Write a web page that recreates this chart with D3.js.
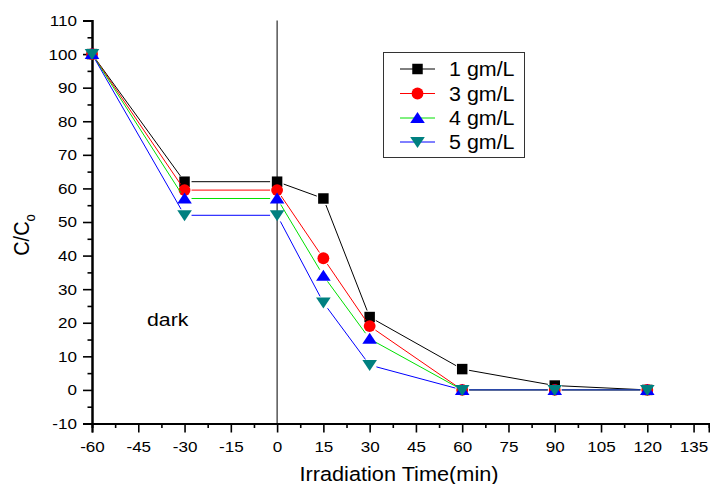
<!DOCTYPE html>
<html>
<head>
<meta charset="utf-8">
<script src="https://cdn.jsdelivr.net/npm/d3@7"></script>
<style>
  html, body { margin: 0; padding: 0; background: #fff; }
  svg { display: block; font-family: "Liberation Sans", Arial, sans-serif; }
</style>
</head>
<body>
<svg id="chart" width="710" height="484"></svg>
<script>
// Irradiation time (min); negative values are the dark adsorption period
const times = [-60, -30, 0, 15, 30, 60, 90, 120];
const seriesNames = ["1 gm/L", "3 gm/L", "4 gm/L", "5 gm/L"];
const conc1 = [100, 62, 62, 57, 21.7, 6.2, 1.3, 0];
const conc3 = [100, 59.5, 59.5, 39.2, 19, 0, 0, 0];
const conc4 = [100, 57, 57, 34, 15.2, 0, 0, 0];
const conc5 = [100, 52, 52, 26, 7.4, 0, 0, 0];
const xTicks = [-60, -45, -30, -15, 0, 15, 30, 45, 60, 75, 90, 105, 120, 135];
const yTicks = [-10, 0, 10, 20, 30, 40, 50, 60, 70, 80, 90, 100, 110];

const lineColors = ["#000000", "#ff0000", "#00e000", "#0000ff"];
const markColors = ["#000000", "#ff0000", "#0000ff", "#008080"];
const markShapes = ["square", "circle", "up", "down"];
const seriesValues = [conc1, conc3, conc4, conc5];

// glyphs are drawn slightly wide
const TEXT_STRETCH = 1.1;
const plainInt = d => String(d); // hyphen-minus rather than the unicode minus

const svg = d3.select("#chart");
const x = d3.scaleLinear().domain([-60, 140]).range([92, 709]);
const y = d3.scaleLinear().domain([-10, 110]).range([423.5, 20.5]);

const xAxis = d3.axisBottom(x).tickValues(xTicks).tickSize(9).tickPadding(8).tickFormat(plainInt);
const xMinor = d3.axisBottom(x).tickValues(d3.range(-52.5, 140, 15)).tickSize(4.5).tickFormat("");
const yAxis = d3.axisLeft(y).tickValues(yTicks).tickSize(9).tickPadding(6).tickFormat(plainInt);
const yMinor = d3.axisLeft(y).tickValues(d3.range(-5, 110, 10)).tickSize(4.5).tickFormat("");

function styleAxis(g) {
  g.select(".domain").attr("stroke", "#000").attr("stroke-width", 2);
  g.selectAll(".tick line").attr("stroke", "#000").attr("stroke-width", 1.6);
  g.selectAll(".tick text").attr("fill", "#000").style("font-size", "15.5px")
    .style("font-family", "'Liberation Sans', Arial, sans-serif");
}

svg.append("g").attr("transform", `translate(0,${y(-10)})`).call(xMinor).call(styleAxis);
svg.append("g").attr("transform", `translate(0,${y(-10)})`).call(xAxis).call(styleAxis)
  .selectAll(".tick text").attr("transform", `scale(${TEXT_STRETCH},1)`);
svg.append("g").attr("transform", `translate(${x(-60)},0)`).call(yMinor).call(styleAxis);
svg.append("g").attr("transform", `translate(${x(-60)},0)`).call(yAxis).call(styleAxis)
  .selectAll(".tick text")
  .attr("x", -15 / TEXT_STRETCH)
  .attr("transform", `scale(${TEXT_STRETCH},1)`);

// separator between dark period and irradiation
svg.append("line")
  .attr("x1", x(0)).attr("x2", x(0))
  .attr("y1", y(110)).attr("y2", y(-10))
  .attr("stroke", "#000").attr("stroke-width", 1);

// axis titles
svg.append("text")
  .attr("transform", `translate(399,481) scale(1.06,1)`)
  .attr("text-anchor", "middle")
  .style("font-size", "20.5px")
  .text("Irradiation Time(min)");

const yTitle = svg.append("text")
  .attr("transform", `translate(29,235) scale(1.12,1) rotate(-90)`)
  .attr("text-anchor", "middle")
  .style("font-size", "20px");
yTitle.append("tspan").text("C/C");
yTitle.append("tspan").attr("dy", 5).style("font-size", "13px").text("o");

svg.append("text")
  .attr("transform", `translate(147,326) scale(1.15,1)`)
  .style("font-size", "18.5px")
  .text("dark");

// marker symbols; triangles are a little flatter than equilateral
const triUp = { draw(ctx) { ctx.moveTo(0, -6); ctx.lineTo(7.3, 5); ctx.lineTo(-7.3, 5); ctx.closePath(); } };
const triDown = { draw(ctx) { ctx.moveTo(0, 6); ctx.lineTo(7.3, -5); ctx.lineTo(-7.3, -5); ctx.closePath(); } };
const symbolFor = {
  square: d3.symbol().type(d3.symbolSquare).size(110),
  circle: d3.symbol().type(d3.symbolCircle).size(110),
  up: d3.symbol().type(triUp),
  down: d3.symbol().type(triDown)
};
function drawMarker(g, shape, color, cx, cy) {
  g.append("path")
    .attr("d", symbolFor[shape]())
    .attr("fill", color)
    .attr("transform", `translate(${cx},${cy})`);
}

// connecting segments leave a small gap around each marker
const gap = 7;
function gappedSegment(g, color, x1, y1, x2, y2) {
  const dx = x2 - x1, dy = y2 - y1, len = Math.hypot(dx, dy);
  if (len <= gap * 2) return;
  const ux = dx / len, uy = dy / len;
  g.append("line")
    .attr("x1", x1 + ux * gap).attr("y1", y1 + uy * gap)
    .attr("x2", x2 - ux * gap).attr("y2", y2 - uy * gap)
    .attr("stroke", color).attr("stroke-width", 1);
}

const plot = svg.append("g");
seriesValues.forEach((vals, i) => {
  const g = plot.append("g");
  const pts = vals.map((v, k) => [x(times[k]), y(v)]);
  for (let k = 0; k < pts.length - 1; k++) {
    gappedSegment(g, lineColors[i], pts[k][0], pts[k][1], pts[k + 1][0], pts[k + 1][1]);
  }
  pts.forEach(p => drawMarker(g, markShapes[i], markColors[i], p[0], p[1]));
});

// legend
const legend = svg.append("g");
legend.append("rect")
  .attr("x", 383.5).attr("y", 52.5).attr("width", 141).attr("height", 105)
  .attr("fill", "#fff").attr("stroke", "#333").attr("stroke-width", 1);
const rowY = [69, 93.5, 118, 142];
seriesNames.forEach((name, i) => {
  const ry = rowY[i];
  const lg = legend.append("g");
  gappedSegment(lg, lineColors[i], 393, ry, 442, ry);
  drawMarker(lg, markShapes[i], markColors[i], 417.5, ry);
  lg.append("text")
    .attr("transform", `translate(449,${ry + 7}) scale(1.1,1)`)
    .style("font-size", "19.5px")
    .text(name);
});
</script>
</body>
</html>
